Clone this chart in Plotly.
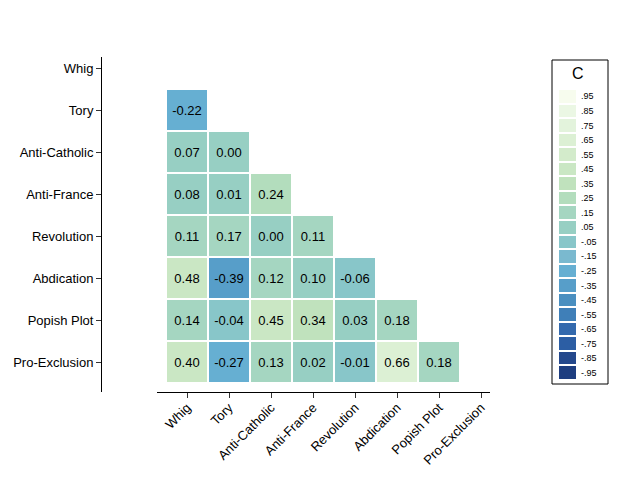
import plotly.graph_objects as go

# page body has an 8px margin: the figure is sized to fit the window
OFF = 8
W, H = 622 - 2 * OFF, 478 - 2 * OFF

categories = ["Whig", "Tory", "Anti-Catholic", "Anti-France", "Revolution",
              "Abdication", "Popish Plot", "Pro-Exclusion"]

# lower-triangle correlation values (row = y category, columns = x categories)
row_whig = []
row_tory = [-0.22]
row_anticatholic = [0.07, 0.00]
row_antifrance = [0.08, 0.01, 0.24]
row_revolution = [0.11, 0.17, 0.00, 0.11]
row_abdication = [0.48, -0.39, 0.12, 0.10, -0.06]
row_popish = [0.14, -0.04, 0.45, 0.34, 0.03, 0.18]
row_proexclusion = [0.40, -0.27, 0.13, 0.02, -0.01, 0.66, 0.18]

rows = [row_whig, row_tory, row_anticatholic, row_antifrance, row_revolution,
        row_abdication, row_popish, row_proexclusion]

# legend bins (centers) and labels
legend_values = [0.95, 0.85, 0.75, 0.65, 0.55, 0.45, 0.35, 0.25, 0.15, 0.05,
                 -0.05, -0.15, -0.25, -0.35, -0.45, -0.55, -0.65, -0.75, -0.85, -0.95]
legend_labels = [".95", ".85", ".75", ".65", ".55", ".45", ".35", ".25", ".15", ".05",
                 "-.05", "-.15", "-.25", "-.35", "-.45", "-.55", "-.65", "-.75", "-.85", "-.95"]

# bin colours from -1 (dark blue) to +1 (pale)
bin_colors = ["#1e3e80", "#24488c", "#2c5ea4", "#3369ad", "#3f7fb8",
              "#4a8fc0", "#579ec9", "#66afd2", "#7ab9cf", "#88c6c9",
              "#97cfc3", "#a5d6c1", "#b3ddbd", "#c0e2bd", "#cae7c4",
              "#d3ebcb", "#dcf0d4", "#e3f3dc", "#ebf7e4", "#f7fcee"]

n = len(categories)
z = []
txt = []
for r in range(n):
    zr, tr = [], []
    for c in range(n):
        if c < len(rows[r]):
            v = rows[r][c]
            zr.append(v)
            tr.append(f"{v:.2f}")
        else:
            zr.append(None)
            tr.append("")
    z.append(zr)
    txt.append(tr)

colorscale = []
nb = len(bin_colors)
for i, col in enumerate(bin_colors):
    colorscale.append([i / nb, col])
    colorscale.append([(i + 1) / nb, col])

FONT = "Liberation Sans, Arial"

fig = go.Figure()
fig.add_trace(go.Heatmap(
    z=z, x=categories, y=categories, text=txt, texttemplate="%{text}",
    textfont=dict(family=FONT, size=13, color="black"),
    colorscale=colorscale, zmin=-1, zmax=1, showscale=False,
    xgap=2, ygap=2, hoverinfo="skip"))

fig.add_trace(go.Heatmap(
    z=[[v] for v in legend_values], x=[0], y=legend_labels,
    colorscale=colorscale, zmin=-1, zmax=1, showscale=False,
    xgap=0, ygap=2, xaxis="x2", yaxis="y2", hoverinfo="skip"))

px = lambda p: (p - OFF) / W
py = lambda p: 1 - (p - OFF) / H

font = dict(family=FONT, size=13, color="black")

fig.update_layout(
    width=W, height=H, margin=dict(l=0, r=0, t=0, b=0),
    paper_bgcolor="white", plot_bgcolor="white",
    xaxis=dict(domain=[px(157), px(490)], range=[-30 / 42, 7 + 9 / 42],
               showline=True, linecolor="black", linewidth=1,
               ticks="outside", ticklen=5, tickcolor="#333", tickwidth=1,
               tickangle=-45, tickfont=font, showgrid=False, zeroline=False,
               ticklabelstandoff=-3, anchor="y", fixedrange=True),
    yaxis=dict(domain=[py(392), py(57)], range=[7 + 30 / 42, -11 / 42],
               anchor="free", position=px(101),
               showline=True, linecolor="black", linewidth=1,
               ticks="outside", ticklen=5, tickcolor="#333", tickwidth=1,
               tickfont=font, showgrid=False, zeroline=False, fixedrange=True),
    xaxis2=dict(domain=[px(559), px(576)], range=[-0.5, 0.5], visible=False,
                anchor="y2", fixedrange=True),
    yaxis2=dict(domain=[py(380), py(89)], range=[19.5, -0.5], anchor="x2",
                side="right", showline=False, ticks="", showgrid=False,
                zeroline=False, ticklabelstandoff=4,
                tickfont=dict(family=FONT, size=9, color="black"),
                fixedrange=True),
    shapes=[dict(type="rect", xref="paper", yref="paper",
                 x0=px(552), x1=px(608), y0=py(384), y1=py(60),
                 line=dict(color="black", width=1), fillcolor="rgba(0,0,0,0)")],
    annotations=[dict(text="C", xref="paper", yref="paper", x=px(578), y=py(74),
                      showarrow=False, xanchor="center", yanchor="middle",
                      font=dict(family=FONT, size=16, color="black"))],
    showlegend=False,
)

fig.write_html("out.html")
